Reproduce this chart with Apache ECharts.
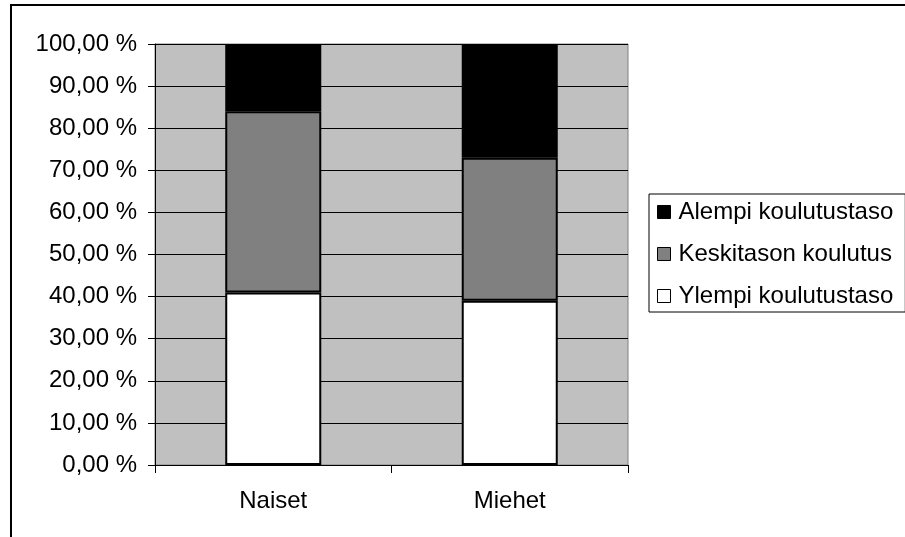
<!DOCTYPE html>
<html>
<head>
<meta charset="utf-8">
<script src="https://cdn.jsdelivr.net/npm/echarts@6/dist/echarts.min.js"></script>
<style>
  html, body { margin: 0; padding: 0; background: #fff; }
  #chart { width: 905px; height: 537px; }
</style>
</head>
<body>
<div id="chart"></div>
<script>
// Education level shares by gender (percent of group)
const categories = ['Naiset', 'Miehet'];
const ylempi = [41, 39];       // Ylempi koulutustaso
const keskitaso = [43, 34];    // Keskitason koulutus
const alempi = [16, 27];       // Alempi koulutustaso
const legendOrder = ['Alempi koulutustaso', 'Keskitason koulutus', 'Ylempi koulutustaso'];

const FONT = '"Liberation Sans", Arial, sans-serif';
const chart = echarts.init(document.getElementById('chart'));

const barStyle = (color) => ({ color: color, borderColor: '#000', borderWidth: 2 });

chart.setOption({
  animation: false,
  textStyle: { fontFamily: FONT },
  graphic: [{
    type: 'rect',
    shape: { x: 11, y: 5, width: 905, height: 540 },
    style: { fill: 'none', stroke: '#000', lineWidth: 2 },
    silent: true
  }],
  grid: {
    left: 155, top: 44, right: 277, bottom: 72,
    show: true, backgroundColor: '#C0C0C0', borderColor: '#808080', borderWidth: 1
  },
  legend: {
    orient: 'vertical',
    left: 649, top: 194,
    data: legendOrder,
    icon: 'rect',
    itemWidth: 13, itemHeight: 13,
    itemGap: 18,
    padding: [6, 12, 4, 8],
    borderColor: '#000', borderWidth: 1,
    backgroundColor: '#fff',
    itemStyle: { borderColor: '#000', borderWidth: 1 },
    textStyle: { fontFamily: FONT, fontSize: 24, color: '#000', lineHeight: 24, padding: [0, 0, 0, 3] }
  },
  xAxis: {
    type: 'category',
    data: categories,
    axisLine: { show: true, lineStyle: { color: '#000', width: 1 } },
    axisTick: { show: true, length: 8, lineStyle: { color: '#000' } },
    axisLabel: { color: '#000', fontFamily: FONT, fontSize: 24, margin: 24 },
    splitLine: { show: false }
  },
  yAxis: {
    type: 'value',
    min: 0, max: 100, interval: 10,
    axisLine: { show: true, lineStyle: { color: '#000', width: 1 } },
    axisTick: { show: true, length: 7, lineStyle: { color: '#000' } },
    axisLabel: {
      color: '#000', fontFamily: FONT, fontSize: 24, margin: 18,
      formatter: (v) => v + ',00 %'
    },
    splitLine: { show: true, lineStyle: { color: '#000', width: 1 } }
  },
  series: [
    { name: 'Ylempi koulutustaso', type: 'bar', stack: 'all', barWidth: '40.6%', data: ylempi, itemStyle: barStyle('#ffffff') },
    { name: 'Keskitason koulutus', type: 'bar', stack: 'all', data: keskitaso, itemStyle: barStyle('#808080') },
    { name: 'Alempi koulutustaso', type: 'bar', stack: 'all', data: alempi, itemStyle: barStyle('#000000') }
  ]
});
</script>
</body>
</html>
